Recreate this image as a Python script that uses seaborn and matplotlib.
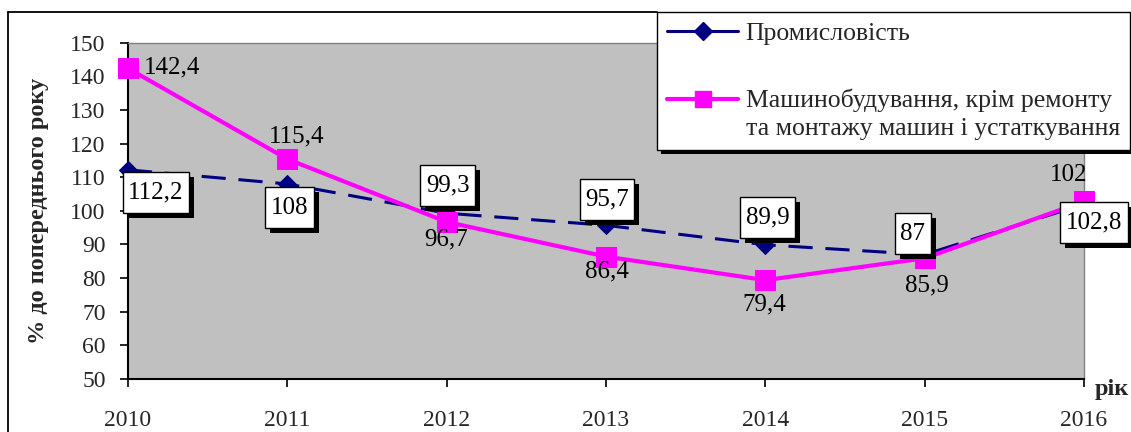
import matplotlib
matplotlib.use("Agg")
import numpy as np
import pandas as pd
import seaborn as sns
import matplotlib.pyplot as plt
import matplotlib.patheffects as pe
from matplotlib.path import Path
from matplotlib.lines import Line2D
from matplotlib.legend_handler import HandlerLine2D

# ---- data ----
years = [2010, 2011, 2012, 2013, 2014, 2015, 2016]
industry = [112.2, 108, 99.3, 95.7, 89.9, 87, 102]
machine = [142.4, 115.4, 96.7, 86.4, 79.4, 85.9, 102.8]
name_industry = "Промисловість"
name_machine = "Машинобудування, крім ремонту\nта монтажу машин і устаткування"
y_ticks = [50, 60, 70, 80, 90, 100, 110, 120, 130, 140, 150]

# ---- label placement (pixel offsets, boxed flag) ----
ind_off = [(28, -23), (2, -24), (1, 28), (1, 26), (2, 27), (-12, 21), (-15, 29)]
ind_box = [True, True, True, True, True, True, False]
mach_off = [(44, 1), (9, 23), (-1, -18), (1, -15), (-1, -24), (2, -27), (10, -21)]
mach_box = [False, False, False, False, False, False, True]

NAVY = "#000080"
PINK = "#FF00FF"
GRAY = "#C0C0C0"

sns.set_style("ticks")
plt.rcParams["font.family"] = ["Liberation Serif", "DejaVu Serif"]

W, H = 1131, 432
fig = plt.figure(figsize=(W / 100, H / 100), dpi=100)
ax = fig.add_axes([128 / W, 53 / H, (1084 - 128) / W, (379 - 42.7) / H])
ax.set_facecolor(GRAY)

df = pd.DataFrame({"year": years, "industry": industry, "machine": machine})

sns.lineplot(data=df, x="year", y="industry", ax=ax, color=NAVY, lw=2.2,
             linestyle=(0, (7.9, 4.2)), marker="D", markersize=9,
             markeredgecolor=NAVY, clip_on=False, zorder=3)
sns.lineplot(data=df, x="year", y="machine", ax=ax, color=PINK, lw=3,
             marker="s", markersize=14, markeredgecolor=PINK,
             clip_on=False, zorder=4)

ax.set_xlim(years[0], years[-1])
ax.set_ylim(y_ticks[0], y_ticks[-1])
ax.set_xticks(years)
ax.set_xticklabels([str(y) for y in years])
ax.set_yticks(y_ticks)
ax.set_xlabel("")
ax.set_ylabel("% до попереднього року", fontsize=17.5, fontweight="bold",
              labelpad=15)
ax.tick_params(axis="both", direction="out", length=6, width=1.2,
               color="black", labelsize=17)
ax.tick_params(axis="x", pad=16.5)
ax.tick_params(axis="y", pad=10)
for s in ("left", "bottom"):
    ax.spines[s].set_color("black")
    ax.spines[s].set_linewidth(1.5)
for s in ("top", "right"):
    ax.spines[s].set_color("#808080")
    ax.spines[s].set_linewidth(1.0)
    ax.spines[s].set_visible(True)


def excel_box(x0, y0, width, height, mutation_size):
    px = 0.22 * mutation_size
    py = 0.38 * mutation_size
    xa, ya = x0 - px, y0 - py
    xb, yb = x0 + width + px, y0 + height + py
    return Path([(xa, ya), (xb, ya), (xb, yb), (xa, yb), (xa, ya)], closed=True)


def fmt(v):
    return f"{v:g}".replace(".", ",")


shadow_fx = [pe.SimplePatchShadow(offset=(3.6, -3.6), shadow_rgbFace="black",
                                  alpha=1.0), pe.Normal()]


def put_label(x, v, off, boxed):
    dx, dy = off
    txt = fmt(v)
    kw = dict(xy=(x, v), xytext=(dx, dy), textcoords="offset pixels",
              ha="center", va="center", fontsize=18, color="black",
              annotation_clip=False)
    if boxed:
        a = ax.annotate(txt, zorder=8,
                        bbox=dict(boxstyle=excel_box, fc="white",
                                  ec="black", lw=1), **kw)
        a.get_bbox_patch().set_path_effects(shadow_fx)
    else:
        ax.annotate(txt, zorder=6, **kw)


for x, v, o, b in zip(years, industry, ind_off, ind_box):
    put_label(x, v, o, b)
for x, v, o, b in zip(years, machine, mach_off, mach_box):
    put_label(x, v, o, b)

fig.text(1095 / W, 1 - 389 / H, "рік", ha="left", va="center",
         fontsize=17.5, fontweight="bold")

# outer chart frame
fig.add_artist(Line2D([8 / W, 8 / W], [0, 1 - 12 / H], color="black",
                      lw=1.3, transform=fig.transFigure))
fig.add_artist(Line2D([8 / W, 657 / W], [1 - 12 / H, 1 - 12 / H],
                      color="black", lw=1.3, transform=fig.transFigure))


class ShiftedHandler(HandlerLine2D):
    def __init__(self, dy=0.0, trim=0.0, **kw):
        super().__init__(**kw)
        self.dy = dy
        self.trim = trim

    def create_artists(self, legend, orig_handle, xdescent, ydescent,
                       width, height, fontsize, trans):
        arts = super().create_artists(legend, orig_handle, xdescent,
                                      ydescent, width, height, fontsize, trans)
        for a in arts:
            xd = np.asarray(a.get_xdata(), float)
            yd = np.asarray(a.get_ydata(), float)
            if len(xd) == 2:
                xd = np.array([xd[0] + self.trim, xd[1]])
            a.set_data(xd, yd + self.dy)
        return arts


h1 = Line2D([], [], color=NAVY, lw=2.2, marker="D", markersize=9)
h2 = Line2D([], [], color=PINK, lw=3, marker="s", markersize=11.5)
leg = fig.legend([h1, h2], [name_industry, name_machine],
                 loc="upper left", bbox_to_anchor=(657 / W, 1 - 12 / H),
                 bbox_transform=fig.transFigure, borderaxespad=0,
                 fancybox=False, edgecolor="black", framealpha=1,
                 fontsize=18.5, handlelength=2.75, handletextpad=0.3,
                 borderpad=0.4, labelspacing=1.7,
                 handler_map={h1: ShiftedHandler(dy=0, trim=4),
                              h2: ShiftedHandler(dy=10.6, trim=0)})
leg.get_frame().set_linewidth(1.0)
leg.get_frame().set_path_effects(
    [pe.SimplePatchShadow(offset=(3, -3), shadow_rgbFace="black", alpha=1.0),
     pe.Normal()])
leg.get_texts()[1].set_linespacing(1.3)

fig.savefig("out.png", dpi=100)
